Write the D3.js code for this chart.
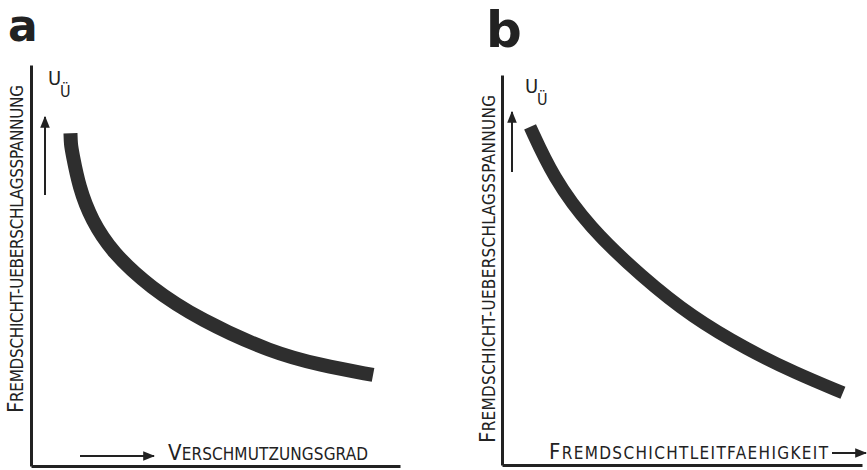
<!DOCTYPE html>
<html><head><meta charset="utf-8">
<script src="https://cdn.jsdelivr.net/npm/d3@7/dist/d3.min.js"></script>
<style>
html,body{margin:0;padding:0;background:#fff;}
svg{display:block;}
text{fill:#222;font-family:"DejaVu Sans Condensed","DejaVu Sans",sans-serif;}
</style></head>
<body><svg id="c" width="867" height="470"></svg>
<script>
// Panel a: Verschmutzungsgrad -> Fremdschicht-Ueberschlagsspannung
const curveAx = [1.07, 1.08, 1.12, 1.30, 1.64, 2.22, 3.22, 4.58, 6.56, 7.83, 9.27];
const curveAy = [8.30, 8.00, 7.81, 6.96, 6.13, 5.31, 4.46, 3.64, 2.82, 2.52, 2.27];
// Panel b: Fremdschichtleitfaehigkeit -> Fremdschicht-Ueberschlagsspannung
const curveBx = [0.78, 1.42, 2.42, 3.89, 5.28, 6.83, 8.14, 9.47];
const curveBy = [8.67, 7.38, 6.10, 4.82, 3.79, 2.95, 2.36, 1.85];

const panelLetters = ["a", "b"];
const yLabel = ["F", "REMDSCHICHT-UEBERSCHLAGSSPANNUNG"];
const xLabelA = ["V", "ERSCHMUTZUNGSGRAD"];
const xLabelB = ["F", "REMDSCHICHTLEITFAEHIGKEIT"];
const symbol = ["U", "Ü"];

const svg = d3.select("#c");
svg.append("defs").append("marker")
  .attr("id","ah").attr("viewBox","0 0 10 10").attr("refX",9).attr("refY",5)
  .attr("markerWidth",6).attr("markerHeight",6).attr("markerUnits","strokeWidth")
  .attr("orient","auto")
  .append("path").attr("d","M0,1 L10,5 L0,9 Z").attr("fill","#222");

const panels = [
  {letter: panelLetters[0], lx: 8, ly: 41, lfs: 44,
   x: d3.scaleLinear().domain([0,10]).range([31,400]),
   y: d3.scaleLinear().domain([0,10]).range([466,65]),
   cx: curveAx, cy: curveAy, sw: 14,
   yl: {x: 23, y0: 413, len: 328},
   xl: {text: xLabelA, x: 168, y: 460, len: 200},
   xa: {x1: 80, x2: 155, y: 456},
   ua: {x: 45, y1: 195, y2: 117},
   sym: {x: 48, y: 85}},
  {letter: panelLetters[1], lx: 486, ly: 47, lfs: 50,
   x: d3.scaleLinear().domain([0,10]).range([502,862]),
   y: d3.scaleLinear().domain([0,10]).range([465,75]),
   cx: curveBx, cy: curveBy, sw: 13,
   yl: {x: 495, y0: 443, len: 348},
   xl: {text: xLabelB, x: 549, y: 459, len: 279},
   xa: {x1: 832, x2: 867, y: 453},
   ua: {x: 512, y1: 172, y2: 112},
   sym: {x: 525, y: 93}}
];

panels.forEach(p => {
  const g = svg.append("g");
  const ax = g.append("g").attr("transform",`translate(0,${p.y.range()[0]})`)
    .call(d3.axisBottom(p.x).tickValues([]).tickSizeOuter(0));
  const ay = g.append("g").attr("transform",`translate(${p.x.range()[0]},0)`)
    .call(d3.axisLeft(p.y).tickValues([]).tickSizeOuter(0));
  [ax, ay].forEach(a => a.select(".domain").attr("stroke","#222").attr("stroke-width",3));

  const pts = p.cx.map((v,i) => [v, p.cy[i]]);
  g.append("path").datum(pts)
    .attr("d", d3.line().x(d => p.x(d[0])).y(d => p.y(d[1])).curve(d3.curveBasis))
    .attr("fill","none").attr("stroke","#2e2e2e").attr("stroke-width",p.sw).attr("stroke-linecap","butt");

  g.append("text").attr("x",p.lx).attr("y",p.ly).text(p.letter)
    .style("font-family","'DejaVu Sans',sans-serif").attr("font-weight","bold").attr("font-size",p.lfs);

  const yt = g.append("text").attr("transform",`translate(${p.yl.x},${p.yl.y0}) rotate(-90)`)
    .attr("textLength",p.yl.len).attr("lengthAdjust","spacing");
  yt.append("tspan").attr("font-size",22).text(yLabel[0]);
  yt.append("tspan").attr("font-size",17).text(yLabel[1]);

  const xt = g.append("text").attr("x",p.xl.x).attr("y",p.xl.y)
    .attr("textLength",p.xl.len).attr("lengthAdjust","spacing");
  xt.append("tspan").attr("font-size",22).text(p.xl.text[0]);
  xt.append("tspan").attr("font-size",17).text(p.xl.text[1]);

  g.append("line").attr("x1",p.xa.x1).attr("x2",p.xa.x2-1).attr("y1",p.xa.y).attr("y2",p.xa.y)
    .attr("stroke","#222").attr("stroke-width",2).attr("marker-end","url(#ah)");
  g.append("line").attr("x1",p.ua.x).attr("x2",p.ua.x).attr("y1",p.ua.y1).attr("y2",p.ua.y2)
    .attr("stroke","#222").attr("stroke-width",2).attr("marker-end","url(#ah)");

  g.append("text").attr("x",p.sym.x).attr("y",p.sym.y).attr("font-size",20).text(symbol[0]);
  g.append("text").attr("x",p.sym.x+12).attr("y",p.sym.y+12).attr("font-size",16).text(symbol[1]);
});
</script></body></html>
